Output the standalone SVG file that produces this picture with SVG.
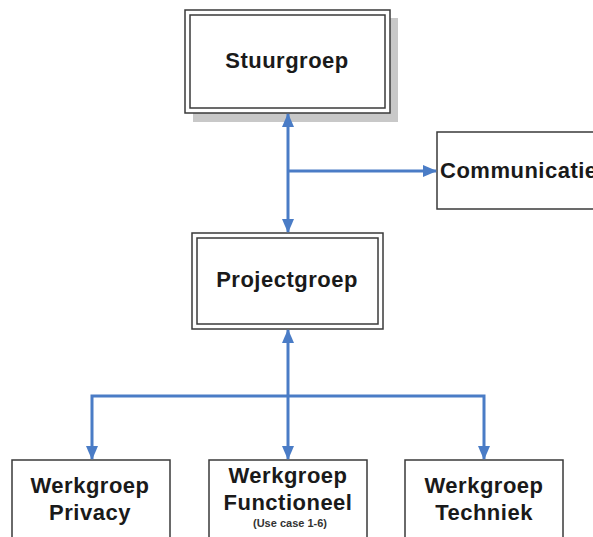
<svg xmlns="http://www.w3.org/2000/svg" width="593" height="537" viewBox="0 0 593 537">
  <defs>
    <marker id="arrow" viewBox="0 0 14 12" refX="13" refY="6" markerWidth="14" markerHeight="12" markerUnits="userSpaceOnUse" orient="auto-start-reverse">
      <path d="M0,0 L14,6 L0,12 Z" fill="#4a7cc6"/>
    </marker>
  </defs>
  <style>
    .box { fill: #ffffff; stroke: #3a3a3a; stroke-width: 1.5; }
    .inner { fill: none; stroke: #3a3a3a; stroke-width: 1.5; }
    .shadow { fill: #c8c8c8; }
    .lbl { font-family: "Liberation Sans", Arial, sans-serif; font-weight: bold; fill: #1a1a1a; text-anchor: middle; font-size: 22px; letter-spacing: 0.5px; }
    .small { font-size: 11px; letter-spacing: 0; fill: #333333; }
    .wire { fill: none; stroke: #4a7cc6; stroke-width: 3; }
  </style>
  <rect width="593" height="537" fill="#ffffff"/>

  <g id="stuurgroep">
    <rect class="shadow" x="193" y="18" width="205" height="104"/>
    <rect class="box" x="185" y="10" width="205" height="103"/>
    <rect class="inner" x="190" y="15" width="195" height="93"/>
    <text class="lbl" x="287" y="68">Stuurgroep</text>
  </g>

  <g id="communicatie">
    <rect class="box" x="437" y="132" width="170" height="77"/>
    <text class="lbl" x="440" y="178" style="text-anchor:start">Communicatie</text>
  </g>

  <g id="projectgroep">
    <rect class="box" x="192" y="233" width="191" height="96"/>
    <rect class="inner" x="197" y="238" width="181" height="86"/>
    <text class="lbl" x="287" y="287">Projectgroep</text>
  </g>

  <g id="werkgroep-privacy">
    <rect class="box" x="12" y="460" width="158" height="90"/>
    <text class="lbl" x="90" y="493">Werkgroep</text>
    <text class="lbl" x="90" y="520">Privacy</text>
  </g>

  <g id="werkgroep-functioneel">
    <rect class="box" x="209" y="460" width="158" height="90"/>
    <text class="lbl" x="288" y="483">Werkgroep</text>
    <text class="lbl" x="288" y="510">Functioneel</text>
    <text class="lbl small" x="290" y="527">(Use case 1-6)</text>
  </g>

  <g id="werkgroep-techniek">
    <rect class="box" x="405" y="460" width="158" height="90"/>
    <text class="lbl" x="484" y="493">Werkgroep</text>
    <text class="lbl" x="484" y="520">Techniek</text>
  </g>

  <g id="connectors">
    <path class="wire" d="M288,114 L288,232" marker-start="url(#arrow)" marker-end="url(#arrow)"/>
    <path class="wire" d="M288,171 L436,171" marker-end="url(#arrow)"/>
    <path class="wire" d="M288,330 L288,459" marker-start="url(#arrow)" marker-end="url(#arrow)"/>
    <path class="wire" d="M288,396 L92,396 L92,459" marker-end="url(#arrow)"/>
    <path class="wire" d="M288,396 L484,396 L484,459" marker-end="url(#arrow)"/>
  </g>
</svg>
